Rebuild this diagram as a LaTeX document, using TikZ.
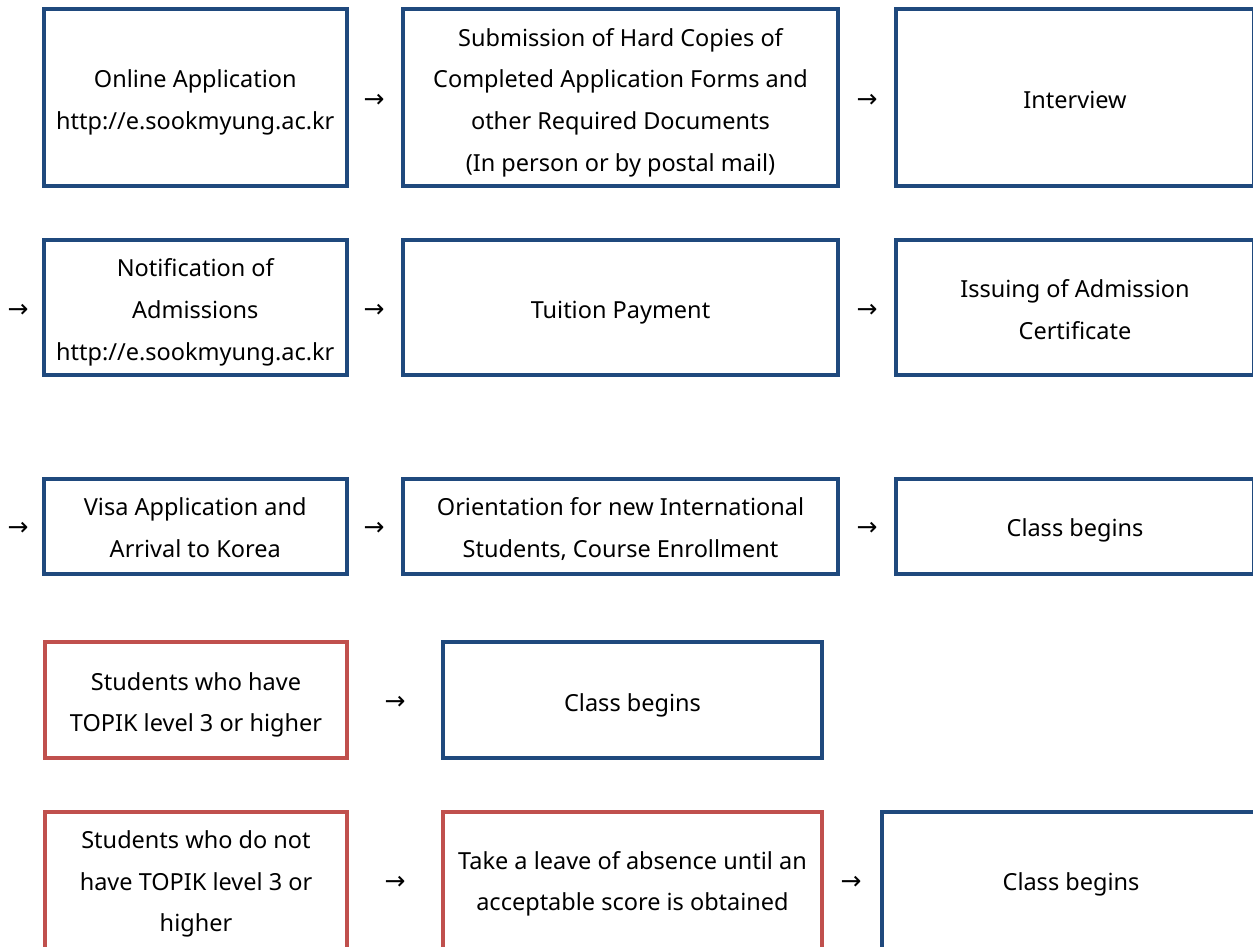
\documentclass[tikz,border=0pt]{standalone}
\usepackage{fontspec}
\setmainfont{Noto Sans}
\newfontfamily\arrowfont{DejaVu Sans}
\definecolor{boxblue}{HTML}{1F497D}
\definecolor{boxred}{HTML}{C0504D}
\newcommand{\boxlines}[2][-9pt]{\raisebox{#1}[0pt][0pt]{\begin{tabular}{@{}c@{}}#2\end{tabular}}}
\begin{document}
\begin{tikzpicture}[x=1pt,y=-1pt,
  flowbox/.style={draw=boxblue, line width=4pt, inner sep=0pt,
    font=\fontsize{23.5}{41.7}\selectfont, text=black},
  redbox/.style={flowbox, draw=boxred},
  arr/.style={font=\arrowfont\fontsize{25}{27}\selectfont, inner sep=0pt}]
\useasboundingbox (0,0) rectangle (1253,947);
% row 1
\node[flowbox, minimum width=302.5, minimum height=177] (a1) at (195.25,97.5) {\boxlines{Online Application\\http://e.sookmyung.ac.kr}};
\node[flowbox, minimum width=435, minimum height=177] (a2) at (620.5,97.5) {\boxlines{Submission of Hard Copies of\\Completed Application Forms and\\other Required Documents\\(In person or by postal mail)}};
\node[flowbox, minimum width=358, minimum height=177] (a3) at (1075,97.5) {\boxlines{Interview}};
\node[arr] (r1a) at (374,101) {→};
\node[arr] (r1b) at (867,101) {→};
% row 2
\node[flowbox, minimum width=302.5, minimum height=135] (b1) at (195.25,307.5) {\boxlines{Notification of\\Admissions\\http://e.sookmyung.ac.kr}};
\node[flowbox, minimum width=435, minimum height=135] (b2) at (620.5,307.5) {\boxlines{Tuition Payment}};
\node[flowbox, minimum width=358, minimum height=135] (b3) at (1075,307.5) {\boxlines{Issuing of Admission\\Certificate}};
\node[arr] (r2a) at (18,311) {→};
\node[arr] (r2b) at (374,311) {→};
\node[arr] (r2c) at (867,311) {→};
% row 3
\node[flowbox, minimum width=302.5, minimum height=95] (c1) at (195.25,526.5) {\boxlines[-8pt]{Visa Application and\\Arrival to Korea}};
\node[flowbox, minimum width=435, minimum height=95] (c2) at (620.5,526.5) {\boxlines[-8pt]{Orientation for new International\\Students, Course Enrollment}};
\node[flowbox, minimum width=358, minimum height=95] (c3) at (1075,526.5) {\boxlines[-8pt]{Class begins}};
\node[arr] (r3a) at (18,529) {→};
\node[arr] (r3b) at (374,529) {→};
\node[arr] (r3c) at (867,529) {→};
% row 4
\node[redbox, minimum width=302, minimum height=116] (d1) at (196,700) {\boxlines{Students who have\\TOPIK level 3 or higher}};
\node[flowbox, minimum width=379, minimum height=116] (d2) at (632.5,700) {\boxlines{Class begins}};
\node[arr] (r4a) at (395,703) {→};
% row 5
\node[redbox, minimum width=302, minimum height=140] (e1) at (196,882) {\boxlines[-6pt]{Students who do not\\have TOPIK level 3 or\\higher}};
\node[redbox, minimum width=379, minimum height=140] (e2) at (632.5,882) {\boxlines[-6pt]{Take a leave of absence until an\\acceptable score is obtained}};
\node[flowbox, minimum width=378, minimum height=140] (e3) at (1071,882) {\boxlines[-6pt]{Class begins}};
\node[arr] (r5a) at (395,883) {→};
\node[arr] (r5b) at (851,883) {→};
\end{tikzpicture}
\end{document}
